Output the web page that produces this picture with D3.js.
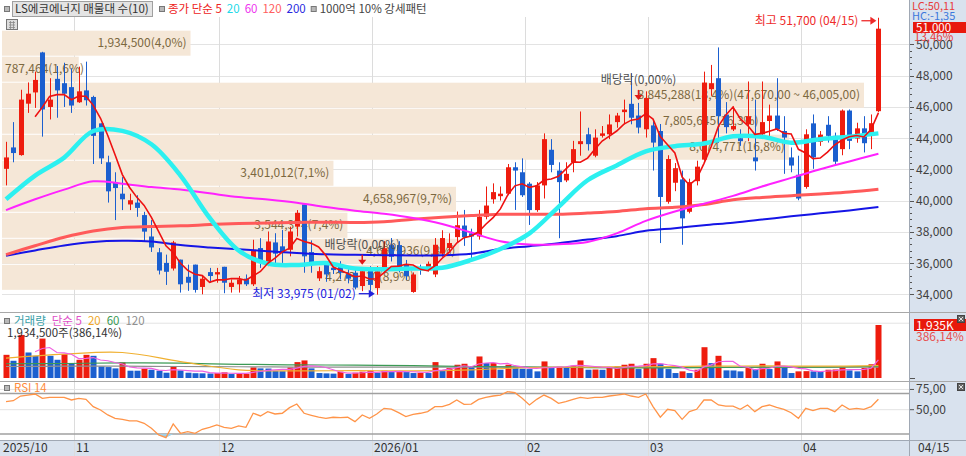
<!DOCTYPE html>
<html><head><meta charset="utf-8">
<script src="https://cdn.jsdelivr.net/npm/d3@7"></script>
<style>
body{margin:0;background:#fff}
svg{display:block}
text{font-family:"Noto Sans CJK KR","Noto Sans",sans-serif}
</style>
</head><body>
<svg id="c" width="966" height="456"></svg>
<script>
// ---------------- DATA ----------------
const dates = [
"2025-10-20","2025-10-21","2025-10-22","2025-10-23","2025-10-24","2025-10-27","2025-10-28","2025-10-29","2025-10-30","2025-10-31",
"2025-11-03","2025-11-04","2025-11-05","2025-11-06","2025-11-07","2025-11-10","2025-11-11","2025-11-12","2025-11-13","2025-11-14",
"2025-11-17","2025-11-18","2025-11-19","2025-11-20","2025-11-21","2025-11-24","2025-11-25","2025-11-26","2025-11-27","2025-11-28",
"2025-12-01","2025-12-02","2025-12-03","2025-12-04","2025-12-05","2025-12-08","2025-12-09","2025-12-10","2025-12-11","2025-12-12",
"2025-12-15","2025-12-16","2025-12-17","2025-12-18","2025-12-19","2025-12-22","2025-12-23","2025-12-24","2025-12-26","2025-12-29","2025-12-30",
"2026-01-02","2026-01-05","2026-01-06","2026-01-07","2026-01-08","2026-01-09","2026-01-12","2026-01-13","2026-01-14","2026-01-15",
"2026-01-16","2026-01-19","2026-01-20","2026-01-21","2026-01-22","2026-01-23","2026-01-26","2026-01-27","2026-01-28","2026-01-29","2026-01-30",
"2026-02-02","2026-02-03","2026-02-04","2026-02-05","2026-02-06","2026-02-09","2026-02-10","2026-02-11","2026-02-12","2026-02-13",
"2026-02-19","2026-02-20","2026-02-23","2026-02-24","2026-02-25","2026-02-26","2026-02-27",
"2026-03-03","2026-03-04","2026-03-05","2026-03-06","2026-03-09","2026-03-10","2026-03-11","2026-03-12","2026-03-13","2026-03-16",
"2026-03-17","2026-03-18","2026-03-19","2026-03-20","2026-03-23","2026-03-24","2026-03-25","2026-03-26","2026-03-27","2026-03-30","2026-03-31",
"2026-04-01","2026-04-02","2026-04-03","2026-04-06","2026-04-07","2026-04-08","2026-04-09","2026-04-10","2026-04-13","2026-04-14","2026-04-15"];

const open = [42030,43400,42910,46200,46920,49480,45990,47790,47510,47260,46290,47050,46630,44940,42450,41140,40440,39750,39870,39070,
37700,36690,36010,35650,36220,35120,35900,34470,35420,35270,35760,34470,34640,35000,34640,36960,36050,37320,37070,36850,
38330,39750,36700,35020,35900,35700,35840,35300,35380,34530,35590,34400,35530,37150,37150,35900,34150,35650,35550,35270,
36600,36960,37660,38400,37900,37700,38960,40080,40280,40440,42130,41810,41080,39390,40970,43250,41920,41290,42450,43610,
44240,42870,44140,44240,45020,45660,46190,45440,44560,44810,44450,39920,41140,41350,39280,41240,42620,47130,47830,45500,
44550,43990,44880,42760,44240,45090,45440,44450,42760,41650,40870,44940,43760,44850,44140,43290,45760,43970,44620,44240,45720];
const high = [43760,45020,47090,47560,48250,49520,47830,48610,48820,48460,48570,48890,46710,44940,42870,41810,41500,40440,40340,39280,
38750,36960,36540,37420,36220,35900,35900,35170,35690,35690,35760,34950,35170,35270,37490,37590,38020,37910,38120,38330,
39390,39750,37450,35760,36120,36000,36120,35600,35590,35700,35800,35800,37400,37600,37400,36200,35400,35900,36100,37600,
38100,37900,39300,39400,38200,39400,40900,41100,40900,42340,42450,42700,41180,41180,44300,43930,42450,42450,43820,45700,
44660,44560,44770,45510,45610,46460,48150,46250,46990,45190,44900,42900,42400,41920,41400,42550,48250,48680,49800,46300,
46030,44560,47620,46460,47620,46140,47830,45400,43400,42870,44560,45510,44450,45400,44350,45830,45830,44980,45400,45510,51700];
const low = [40970,42450,42870,45610,45930,44090,45190,45300,45990,45610,46250,46080,42340,42340,39870,38750,39390,39390,38960,37380,
36710,35270,34600,35520,34110,34220,34110,34000,34740,34740,34070,34110,34110,34530,34530,35690,35800,35900,36010,36430,
37700,35380,35380,34850,34800,35300,34950,34700,34320,34200,34220,33975,35400,36100,35400,34900,34100,35250,35450,35100,
36400,36700,37300,37100,36150,37500,38800,39800,40000,40340,39400,40230,38440,39280,40130,41810,37590,41180,41810,42870,
43200,42770,44030,43930,44660,44880,44880,44300,44030,41920,37280,39800,40600,37170,39180,40970,42550,46700,43700,44300,
44450,43500,43800,41920,44100,44140,44450,41710,41810,40020,40760,42030,43500,43710,42240,42900,43290,43700,43080,43290,45650];
const close = [42760,43040,46460,46840,47720,45830,46460,47050,46840,46080,46990,46420,44140,42700,40590,40800,40080,40020,39530,38010,
37000,35520,35440,37320,34640,34740,34280,35000,35170,35420,34740,34740,34950,34640,36850,36120,37380,36600,36640,38020,
39220,36430,35990,35480,35270,35550,35380,35000,34430,35480,34600,35480,36950,36400,35600,35160,35270,35550,35950,37170,
37600,37280,38420,37650,37700,38960,39680,40540,40440,42130,41920,40340,39390,40970,43930,42280,41180,41710,43290,43800,
43610,44030,44300,44870,45440,45820,45300,44670,46560,43710,40230,42660,42070,38860,41180,42170,47550,47510,45400,44700,
44770,43800,45400,42510,45020,45440,44560,44030,42240,40130,44240,42760,44220,44140,42490,45760,43820,44620,43670,44950,51000];

const volume = [846000,629000,1572000,931000,810000,1439000,810000,665000,870000,544000,665000,846000,810000,423000,399000,351000,568000,266000,266000,339000,
302000,266000,193000,423000,278000,193000,175000,170000,165000,181000,206000,145000,150000,155000,387000,351000,345000,254000,250000,387000,
580000,641000,351000,181000,169000,160000,230000,145000,193000,230000,266000,193000,266000,218000,254000,218000,181000,190000,181000,580000,
290000,363000,484000,520000,399000,786000,544000,550000,302000,484000,363000,339000,326000,242000,605000,399000,410000,395000,447000,641000,
302000,310000,300000,399000,423000,484000,520000,326000,520000,725000,520000,326000,181000,242000,181000,302000,1124000,544000,810000,278000,
275000,242000,363000,326000,520000,326000,605000,399000,181000,242000,250000,242000,240000,302000,310000,399000,278000,242000,363000,501000,1934500];

const rsi14 = [59.9,61.1,66.9,68.1,69.4,64.0,65.3,65.3,65.3,62.0,64.0,62.8,53.8,49.6,43.5,39.4,38.1,36.1,36.1,33.2,
27.0,18.8,15.5,32.4,20.9,22.9,20.9,25.8,28.3,31.2,28.3,27.0,30.0,28.3,45.6,42.3,47.6,44.7,45.6,52.5,
57.0,45.6,43.1,40.7,39.4,40.7,40.2,40.7,35.3,43.5,39.4,44.7,51.7,50.8,46.3,41.5,44.3,45.6,47.6,53.8,
53.8,56.6,62.0,56.6,57.0,62.8,65.3,66.9,68.1,72.2,71.0,64.0,55.8,62.8,68.1,64.0,57.8,59.9,62.8,65.3,
64.0,65.3,65.3,66.9,68.1,69.4,66.9,65.3,69.4,53.8,40.7,50.5,48.8,38.1,47.6,50.5,62.0,62.0,55.8,54.5,
54.5,50.5,55.8,47.6,53.8,55.8,52.9,50.5,46.3,39.4,51.7,48.8,51.7,51.7,47.6,55.8,50.5,51.7,50.5,53.8,62.8];

// price moving averages every 4 sessions
const maSampleStep = 4;
const ma20 = [40080,41600,42750,44450,44460,43600,41600,38900,36800,35960,35880,36000,35650,35600,35650,35700,36200,36900,37900,39600,41300,42250,43150,43480,43650,44110,44080,43700,43930,44090,44300];
const ma60 = [39390,40080,40700,41230,41080,40860,40700,40460,40220,40060,39860,39580,39350,39150,38880,38500,37950,37400,37180,37200,37350,37900,38700,39300,39800,40300,40900,41450,42000,42500,43000];
const ma120 = [36540,37110,37650,38050,38280,38340,38380,38460,38530,38570,38600,38610,38600,38650,38800,38930,39040,39120,39130,39120,39200,39300,39480,39570,39750,40050,40200,40310,40420,40540,40720];
const ma200 = [36470,36810,37130,37350,37420,37380,37150,37000,36880,36760,36650,36560,36530,36500,36490,36500,36600,36900,37080,37270,37500,37720,38060,38230,38420,38580,38780,38990,39180,39370,39580];

// volume moving averages read every 8 sessions
const volSampleStep = 8;
const volMa20 = [725000,870000,930000,600000,300000,260000,270000,262000,300000,380000,400000,410000,430000,440000,430000,450000];
const volMa60 = [520000,530000,550000,540000,500000,480000,470000,450000,420000,400000,380000,370000,380000,400000,400000,420000];
const volMa120 = [420000,430000,430000,420000,410000,400000,400000,400000,400000,395000,390000,390000,385000,390000,390000,395000];

// volume profile (매물대), 10 bins from low to high
const profileBins = [34350,36015,37680,39345,41010,42675,44340,46005,47670,49335,51000];
const profileVol = [4273110,4692936,3544374,4658967,3401012,8074771,7805645,8845288,787464,1934500];
const profilePct = ["8,9","9,8","7,4","9,7","7,1","16,8","16,3","18,4","1,6","4,0"];

const priceTicks = [34000,36000,38000,40000,42000,44000,46000,48000,50000];
const exDivDates = ["2025-12-29","2026-02-26"];
const lowMark = {date:"2026-01-02", value:33975, label:"최저 33,975 (01/02)"};
const highMark = {date:"2026-04-15", value:51700, label:"최고 51,700 (04/15)"};

// ---------------- LAYOUT ----------------
const svg = d3.select("#c");
const PL = 2, PR = 909;
const C_UP = "#ee1c0e", C_DN = "#1b5fcf";
const AXBG = "#d9e2ee";

const x = d3.scaleBand().domain(dates).range([2.37, 882.04]).padding(0);
const cx = d => x(d) + x.bandwidth()/2;
const xi = i => cx(dates[i]);
const y = d3.scaleLinear().domain([34000,50000]).range([294.3,44.3]);
const yv = d3.scaleLinear().domain([0,1934500]).range([378,325]);
const yr = d3.scaleLinear().domain([20,70]).range([434,393.5]);

svg.append("rect").attr("width",966).attr("height",456).attr("fill","#fff");
svg.append("rect").attr("x",PR).attr("y",0).attr("width",966-PR).attr("height",456).attr("fill",AXBG);
svg.append("rect").attr("x",0).attr("y",440).attr("width",966).attr("height",16).attr("fill",AXBG);

// gridlines
const g = svg.append("g");
g.selectAll("line.h").data(priceTicks).join("line")
  .attr("x1",PL).attr("x2",PR).attr("y1",d=>Math.round(y(d))+0.5).attr("y2",d=>Math.round(y(d))+0.5)
  .attr("stroke","#e3e3e3");
const monthStarts = dates.map((d,i)=>i).filter(i=> i===0 || dates[i].slice(0,7)!==dates[i-1].slice(0,7));
g.selectAll("line.v").data(monthStarts.filter(i=>i>0)).join("line")
  .attr("x1",i=>Math.round(x(dates[i]))-0.5).attr("x2",i=>Math.round(x(dates[i]))-0.5)
  .attr("y1",17).attr("y2",456).attr("stroke","#dcdcdc");
// panel lines
[[312.5,"#a8a8a8"],[381.5,"#a8a8a8"],[440.5,"#a0a8b4"]].forEach(([yy,c])=>{
  svg.append("line").attr("x1",0).attr("x2",966).attr("y1",yy).attr("y2",yy).attr("stroke",c);
});
svg.append("line").attr("x1",PR+0.5).attr("x2",PR+0.5).attr("y1",0).attr("y2",440).attr("stroke","#a0a8b4");
svg.append("line").attr("x1",0).attr("x2",PR).attr("y1",yv(2000000)).attr("y2",yv(2000000)).attr("stroke","#e3e3e3");
[75,50].forEach(v=>svg.append("line").attr("x1",0).attr("x2",PR).attr("y1",yr(v)).attr("y2",yr(v)).attr("stroke","#e3e3e3"));
[70,20].forEach(v=>svg.append("line").attr("x1",0).attr("x2",PR).attr("y1",yr(v)).attr("y2",yr(v)).attr("stroke","#a0a0a0").attr("stroke-width",1.5));

// volume profile boxes
const maxPV = d3.max(profileVol);
const pg = svg.append("g");
profileVol.forEach((v,k)=>{
  const top = y(profileBins[k+1])+2, bot = y(profileBins[k])+1;
  const w = v/maxPV*862;
  pg.append("rect").attr("x",PL).attr("y",top).attr("width",w).attr("height",bot-top).attr("fill","#f5e7d7");
});
profileVol.forEach((v,k)=>{
  const top = y(profileBins[k+1])+2, bot = y(profileBins[k])+1;
  const w = v/maxPV*862;
  let label = d3.format(",")(v)+"("+profilePct[k]+"%)";
  if (v===maxPV) label += "("+d3.format(",")(profileBins[k+1])+",00 ~ "+d3.format(",")(profileBins[k])+",00)";
  const t = pg.append("text").attr("y",(top+bot)/2+4).attr("font-size",12).attr("fill","#7c6840").text(label);
  const tw = t.node().getComputedTextLength();
  let tx = PL + w - 4 - tw; if (tx < 5) tx = 5;
  t.attr("x",tx);
});

// candles
const cg = svg.append("g");
dates.forEach((d,i)=>{
  const up = close[i] >= open[i];
  const col = up ? C_UP : C_DN;
  const X = Math.round(cx(d));
  cg.append("line").attr("x1",X+0.5).attr("x2",X+0.5).attr("y1",y(high[i])).attr("y2",y(low[i])).attr("stroke",col);
  const t = y(Math.max(open[i],close[i])), b = y(Math.min(open[i],close[i]));
  cg.append("rect").attr("x",X-2).attr("y",t).attr("width",5).attr("height",Math.max(1,b-t)).attr("fill",col);
});

// moving averages
function sampled(arr, step){ return arr.map((v,k)=>({i:k*step, v})); }
const lineS = (sc)=> d3.line().x(p=>xi(p.i)).y(p=>sc(p.v)).curve(d3.curveCatmullRom.alpha(0.5));
const mg = svg.append("g").attr("fill","none");
mg.append("path").attr("d",lineS(y)(sampled(ma200,maSampleStep))).attr("stroke","#1515e6").attr("stroke-width",2);
mg.append("path").attr("d",lineS(y)(sampled(ma120,maSampleStep))).attr("stroke","#ff5a5a").attr("stroke-width",3);
mg.append("path").attr("d",lineS(y)(sampled(ma60,maSampleStep))).attr("stroke","#ff22ff").attr("stroke-width",2);
mg.append("path").attr("d",lineS(y)(sampled(ma20,maSampleStep))).attr("stroke","#2cf0f0").attr("stroke-width",4.5);
const ma5 = close.map((v,i)=> i<4 ? null : d3.mean(close.slice(i-4,i+1)));
mg.append("path").attr("d",d3.line().defined(v=>v!==null).x((v,i)=>xi(i)).y(v=>y(v))(ma5)).attr("stroke","#ee1111").attr("stroke-width",1.6);

// ex-dividend markers
exDivDates.forEach(d=>{
  const i = dates.indexOf(d), X = cx(d);
  const tipY = y(high[i]) - 3;
  svg.append("line").attr("x1",X).attr("x2",X).attr("y1",tipY-10).attr("y2",tipY-4).attr("stroke","#e01818").attr("stroke-width",1.5);
  svg.append("path").attr("d",`M${X-4},${tipY-5}L${X+4},${tipY-5}L${X},${tipY}Z`).attr("fill","#e01818");
  svg.append("text").attr("x",X).attr("y",tipY-16).attr("text-anchor","middle").attr("font-size",12).attr("fill","#505050").text("배당락(0,00%)");
});

// low / high labels
{
  const X = cx(lowMark.date), Y = y(lowMark.value)-1;
  svg.append("line").attr("x1",X-18).attr("x2",X-7).attr("y1",Y).attr("y2",Y).attr("stroke","#2222dd").attr("stroke-width",1.3);
  svg.append("path").attr("d",`M${X-8},${Y-4}L${X-2},${Y}L${X-8},${Y+4}Z`).attr("fill","#2222dd");
  svg.append("text").attr("x",X-21).attr("y",Y+4).attr("text-anchor","end").attr("font-size",12).attr("fill","#2222dd").text(lowMark.label);
  const X2 = cx(highMark.date), Y2 = y(highMark.value)+3;
  svg.append("line").attr("x1",X2-17).attr("x2",X2-7).attr("y1",Y2).attr("y2",Y2).attr("stroke","#ee2a2a").attr("stroke-width",1.3);
  svg.append("path").attr("d",`M${X2-8},${Y2-4}L${X2-2},${Y2}L${X2-8},${Y2+4}Z`).attr("fill","#ee2a2a");
  svg.append("text").attr("x",X2-20).attr("y",Y2+4).attr("text-anchor","end").attr("font-size",12).attr("fill","#ee2a2a").text(highMark.label);
}

// volume bars
const vg = svg.append("g");
volume.forEach((v,i)=>{
  const col = (i===0 || v > volume[i-1]) ? C_UP : C_DN;
  vg.append("rect").attr("x",Math.round(xi(i))-2.5).attr("y",yv(v)).attr("width",6).attr("height",yv(0)-yv(v)).attr("fill",col);
});
const vma5 = volume.map((v,i)=> i<4 ? null : d3.mean(volume.slice(i-4,i+1)));
const vlm = svg.append("g").attr("fill","none").attr("stroke-width",1.2);
vlm.append("path").attr("d",lineS(yv)(sampled(volMa120,volSampleStep))).attr("stroke","#909090");
vlm.append("path").attr("d",lineS(yv)(sampled(volMa60,volSampleStep))).attr("stroke","#3c9a55");
vlm.append("path").attr("d",lineS(yv)(sampled(volMa20,volSampleStep))).attr("stroke","#f0b030");
vlm.append("path").attr("d",d3.line().defined(v=>v!==null).x((v,i)=>xi(i)).y(v=>yv(v))(vma5)).attr("stroke","#f060e0");

// RSI
const rsiArea = d3.area().x((v,i)=>xi(i)).y0(yr(20)).y1(v=>yr(Math.min(v,20)));
svg.append("path").attr("d",rsiArea(rsi14)).attr("fill","#9fd0e8");
svg.append("path").attr("d",d3.line().x((v,i)=>xi(i)).y(v=>yr(v))(rsi14)).attr("fill","none").attr("stroke","#ff9448").attr("stroke-width",1.3);

// x axis labels
monthStarts.forEach(i=>{
  const d = dates[i];
  const lab = (i===0 || d.slice(5,7)==="01") ? d.slice(0,4)+"/"+d.slice(5,7) : d.slice(5,7);
  svg.append("text").attr("x",Math.max(3,Math.round(x(d))+1)).attr("y",452).attr("font-size",12).attr("fill","#333").text(lab);
});
svg.append("text").attr("x",918).attr("y",452).attr("font-size",12).attr("fill","#333").text(dates[dates.length-1].slice(5).replace("-","/"));
svg.append("line").attr("x1",PR+0.5).attr("x2",PR+0.5).attr("y1",440).attr("y2",456).attr("stroke","#a0a8b4");

// right price axis
const ra = svg.append("g");
d3.range(34000,50001,400).forEach(v=>{
  const major = v%2000===0;
  ra.append("line").attr("x1",PR+1).attr("x2",PR+(major?5:3)).attr("y1",Math.round(y(v))+0.5).attr("y2",Math.round(y(v))+0.5).attr("stroke","#555");
});
priceTicks.forEach(v=>{
  ra.append("text").attr("x",PR+7).attr("y",y(v)+4.5).attr("font-size",12).attr("fill","#404040").text(d3.format(",")(v));
});
ra.append("rect").attr("x",913).attr("y",22).attr("width",53).attr("height",11).attr("fill","#e8180c");
ra.append("text").attr("x",916).attr("y",31.5).attr("font-size",11.5).attr("fill","#fff").text(d3.format(",")(close[close.length-1]));
ra.append("text").attr("x",914).attr("y",41).attr("font-size",11.5).attr("fill","#e83c3c").text("13,46%");
ra.append("text").attr("x",912).attr("y",10).attr("font-size",11).attr("fill","#e83c3c").text("LC:50,11");
ra.append("text").attr("x",912).attr("y",19.5).attr("font-size",11).attr("fill","#3c78dc").text("HC:-1,35");

// volume right axis
ra.append("rect").attr("x",914).attr("y",319).attr("width",52).attr("height",12).attr("fill","#e8180c");
ra.append("text").attr("x",916).attr("y",329.5).attr("font-size",12).attr("fill","#fff").text("1,935K");
ra.append("text").attr("x",916).attr("y",341).attr("font-size",12).attr("fill","#e85050").text("386,14%");
ra.append("line").attr("x1",PR+1).attr("x2",PR+6).attr("y1",378.5).attr("y2",378.5).attr("stroke","#555");
// rsi right axis
[[75,"75,00"],[50,"50,00"]].forEach(([v,t])=>{
  ra.append("line").attr("x1",PR+1).attr("x2",PR+5).attr("y1",yr(v)).attr("y2",yr(v)).attr("stroke","#555");
  ra.append("text").attr("x",PR+7).attr("y",yr(v)+4).attr("font-size",12).attr("fill","#404040").text(t);
});
[315,383].forEach(yy=>{
  ra.append("rect").attr("x",957.5).attr("y",yy+0.5).attr("width",7).attr("height",7).attr("fill","#666").attr("stroke","#444");
  ra.append("path").attr("d",`M${959},${yy+2}L${963},${yy+6}M${963},${yy+2}L${959},${yy+6}`).attr("stroke","#fff").attr("stroke-width",0.8);
});

// legends
const lg = svg.append("g");
function sq(xx,yy){ lg.append("rect").attr("x",xx+0.5).attr("y",yy+0.5).attr("width",5).attr("height",5).attr("fill","#b8b8b8").attr("stroke","#777"); }
sq(4,6);
lg.append("rect").attr("x",12.5).attr("y",1.5).attr("width",140).attr("height",15).attr("fill","#e4e4e4").attr("stroke","#a0a0a0");
lg.append("text").attr("x",15).attr("y",13).attr("font-size",11.5).attr("fill","#333").text("LS에코에너지 매물대 수(10)");
sq(159,6);
let lx = 168;
[["종가 단순 5","#ee2222"],["20","#22d8e8"],["60","#ee33ee"],["120","#ff6060"],["200","#2a2ae0"]].forEach(([t,c],k)=>{
  const tt = lg.append("text").attr("x",lx).attr("y",13).attr("font-size",11.5).attr("fill",c).text(t);
  lx += tt.node().getComputedTextLength() + 5;
});
sq(lx,6);
lg.append("text").attr("x",lx+9).attr("y",13).attr("font-size",11.5).attr("fill","#444").text("1000억 10% 강세패턴");
// chart icon
lg.append("rect").attr("x",6.5).attr("y",19.5).attr("width",11).attr("height",10).attr("fill","#ddd").attr("stroke","#777");
lg.append("path").attr("d","M9,22.5H15M9,25H15M9,27.5H15M10.5,21V29M13.5,21V29").attr("stroke","#888").attr("stroke-width",0.8);

// volume legend
sq(4,318);
lx = 14;
[["거래량","#3aa0a8"],["단순 5","#e050c8"],["20","#f0a828"],["60","#3c9a55"],["120","#909090"]].forEach(([t,c])=>{
  const tt = lg.append("text").attr("x",lx).attr("y",325).attr("font-size",11.5).attr("fill",c).text(t);
  lx += tt.node().getComputedTextLength() + 6;
});
lg.append("text").attr("x",7).attr("y",337).attr("font-size",11.5).attr("fill","#333").text(d3.format(",")(volume[volume.length-1])+"주(386,14%)");
// rsi legend
sq(4,385);
lg.append("text").attr("x",14).attr("y",392).attr("font-size",11.5).attr("fill","#ff8c3c").text("RSI 14");
</script>
</body></html>
